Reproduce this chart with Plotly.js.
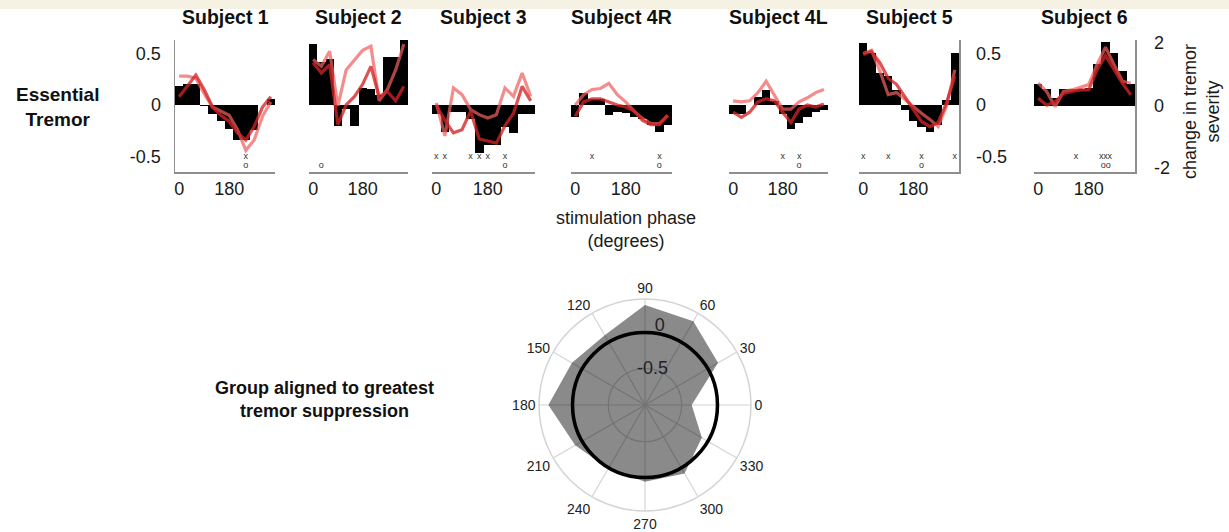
<!DOCTYPE html>
<html><head><meta charset="utf-8">
<script src="https://cdn.plot.ly/plotly-3.0.1.min.js"></script>
<style>body{margin:0;background:#fff}#chart{width:1229px;height:532px}</style>
</head><body><div id="chart"></div><script>
// ---------------- data ----------------
const subjects = ['Subject 1','Subject 2','Subject 3','Subject 4R','Subject 4L','Subject 5','Subject 6'];
const phaseBins = [0,30,60,90,120,150,180,210,240,270,300,330];
const xTickVals = [0,180];
const xTickText = ['0','180'];

const bars1 = [0.18,0.20,0.20,-0.01,-0.09,-0.16,-0.23,-0.34,-0.34,-0.24,0.00,0.06];
const lineA1 = [0.28,0.28,0.26,0.11,-0.02,-0.06,-0.10,-0.24,-0.44,-0.34,-0.11,0.03];
const lineB1 = [0.08,0.18,0.29,0.15,-0.02,-0.10,-0.16,-0.27,-0.34,-0.21,-0.02,0.08];
const xMarks1 = [240], oMarks1 = [240];

const bars2 = [0.59,0.42,0.45,-0.20,-0.04,-0.20,0.165,0.155,0.10,0.47,0.47,0.63];
const lineA2 = [0.44,0.375,0.52,-0.01,0.34,0.44,0.53,0.57,0.04,0.15,0.34,0.59];
const lineB2 = [0.41,0.31,0.39,-0.19,0.00,0.08,0.20,0.375,0.08,0.13,0.04,0.18];
const xMarks2 = [], oMarks2 = [30];

const bars3 = [-0.09,-0.26,-0.07,-0.07,-0.14,-0.47,-0.385,-0.385,-0.21,-0.27,-0.09,-0.09];
const lineA3 = [0.02,-0.30,0.165,0.10,-0.045,-0.094,-0.126,-0.094,0.165,0.084,0.31,0.084];
const lineB3 = [0.00,-0.15,-0.27,-0.24,-0.06,-0.33,-0.35,-0.37,-0.20,-0.08,0.18,0.04];
const xMarks3 = [0,30,120,150,180,240], oMarks3 = [240];

const bars4R = [-0.12,0.12,0.06,0.06,-0.10,-0.07,-0.08,-0.12,-0.14,-0.19,-0.26,-0.19];
const lineA4R = [0.00,0.10,0.15,0.16,0.21,0.10,0.03,-0.06,-0.13,-0.18,-0.18,-0.10];
const lineB4R = [-0.11,0.03,0.06,0.06,0.03,0.00,-0.02,-0.06,-0.15,-0.19,-0.19,-0.10];
const xMarks4R = [60,300], oMarks4R = [300];

const bars4L = [-0.09,-0.09,0.00,0.08,0.15,0.04,-0.09,-0.23,-0.17,-0.12,-0.07,-0.05];
const lineA4L = [0.04,0.03,0.04,0.12,0.23,0.09,-0.04,-0.04,0.03,0.07,0.12,0.15];
const lineB4L = [-0.07,-0.12,-0.07,0.03,0.06,0.04,-0.07,-0.17,-0.04,0.00,-0.02,0.01];
const xMarks4L = [180,240], oMarks4L = [240];

const bars5 = [0.60,0.50,0.31,0.28,0.15,-0.05,-0.16,-0.21,-0.26,-0.19,0.05,0.50];
const lineA5 = [0.50,0.53,0.33,0.10,0.12,0.05,-0.01,-0.08,-0.14,-0.21,-0.01,0.34];
const lineB5 = [0.49,0.52,0.41,0.26,0.20,0.08,-0.03,-0.16,-0.21,-0.17,0.02,0.28];
const xMarks5 = [0,90,210,330], oMarks5 = [210];

const bars6 = [0.70,0.52,0.23,0.52,0.52,0.52,0.55,1.32,2.05,1.68,1.10,0.70];
const lineA6 = [0.72,0.45,-0.04,0.45,0.50,0.59,0.67,1.32,1.87,1.32,0.78,0.72];
const lineB6 = [0.23,0.01,0.12,0.39,0.45,0.50,0.50,1.16,1.60,1.16,0.72,0.34];
const xMarks6 = [135,225,240,255], oMarks6 = [232,250];

const polarTheta = [0,30,60,90,120,150,180,210,240,270,300,330];
const polarR = [-0.356,0.187,0.365,0.413,0.134,0.187,0.365,0.134,0.028,0.077,0.11,-0.082];
const polarAngleText = ['0','30','60','90','120','150','180','210','240','270','300','330'];
const polarTickVals = [-0.5,0];
const polarTickText = ['-0.5','0'];

// ---------------- layout helpers ----------------
const W = 1229, H = 532;
const FONT = 'Liberation Sans, Arial, Helvetica, sans-serif';
const panelsPx = [[175,275],[309,408],[432,535],[571,672],[729,828],[859,959],[1034,1135]];
const yDom = [(H-172)/H, (H-40)/H];
const normRange = [-0.65,0.63];
const s6Range = [-2.13,2.10];

const series = [
  [bars1,lineA1,lineB1,xMarks1,oMarks1],
  [bars2,lineA2,lineB2,xMarks2,oMarks2],
  [bars3,lineA3,lineB3,xMarks3,oMarks3],
  [bars4R,lineA4R,lineB4R,xMarks4R,oMarks4R],
  [bars4L,lineA4L,lineB4L,xMarks4L,oMarks4L],
  [bars5,lineA5,lineB5,xMarks5,oMarks5],
  [bars6,lineA6,lineB6,xMarks6,oMarks6]
];

const traces = [];
const layout = {
  width: W, height: H,
  margin: {l:0,r:0,t:0,b:0},
  paper_bgcolor: '#ffffff',
  plot_bgcolor: 'rgba(0,0,0,0)',
  showlegend: false,
  bargap: 0,
  font: {family: FONT, color: '#1a1a1a'},
  annotations: [],
  shapes: [{type:'rect', xref:'paper', yref:'paper', x0:0, x1:1, y0:1-9/H, y1:1,
            fillcolor:'#f6f2e3', line:{width:0}, layer:'below'}]
};

series.forEach((s, i) => {
  const n = i + 1;
  const xa = n === 1 ? 'x' : 'x' + n;
  const ya = n === 1 ? 'y' : 'y' + n;
  const range = n === 7 ? s6Range : normRange;
  const span = range[1] - range[0];
  const xMarkY = range[0] + 0.115 * span;
  const oMarkY = range[0] + 0.045 * span;

  traces.push({type:'bar', x: phaseBins, y: s[0], width: 30, marker:{color:'#000000', line:{width:0}},
               xaxis: xa, yaxis: ya, hoverinfo:'skip'});
  traces.push({type:'scatter', mode:'lines', x: phaseBins, y: s[1], xaxis: xa, yaxis: ya,
               line:{color:'rgba(240,95,95,0.72)', width:3.2}, hoverinfo:'skip'});
  traces.push({type:'scatter', mode:'lines', x: phaseBins, y: s[2], xaxis: xa, yaxis: ya,
               line:{color:'rgba(210,35,35,0.78)', width:3.2}, hoverinfo:'skip'});
  if (s[3].length) traces.push({type:'scatter', mode:'text', x: s[3], y: s[3].map(() => xMarkY), text: s[3].map(() => 'x'),
               textfont:{size:9, color:'#333', family: FONT}, xaxis: xa, yaxis: ya, hoverinfo:'skip'});
  if (s[4].length) traces.push({type:'scatter', mode:'text', x: s[4], y: s[4].map(() => oMarkY), text: s[4].map(() => 'o'),
               textfont:{size:9, color:'#333', family: FONT}, xaxis: xa, yaxis: ya, hoverinfo:'skip'});

  const px = panelsPx[i];
  const xKey = n === 1 ? 'xaxis' : 'xaxis' + n;
  const yKey = n === 1 ? 'yaxis' : 'yaxis' + n;
  layout[xKey] = {
    domain: [px[0]/W, px[1]/W], range: [-15,345], anchor: ya,
    tickvals: xTickVals, ticktext: xTickText, ticks: '', showgrid: false, zeroline: false,
    showline: true, linecolor: '#8f8f8f', linewidth: 1.5,
    tickfont: {size: 18, color:'#1a1a1a', family: FONT}, fixedrange: true
  };
  const yax = {
    domain: yDom, range: range, anchor: xa, showgrid: false, zeroline: false, ticks: '',
    fixedrange: true, showline: false, showticklabels: false,
    tickfont: {size: 18, color:'#1a1a1a', family: FONT}, ticklabelstandoff: 9
  };
  if (n === 1) {
    Object.assign(yax, {side:'left', showline:true, linecolor:'#8f8f8f', linewidth:1.5, showticklabels:true,
      tickvals:[-0.5,0,0.5], ticktext:['-0.5','0','0.5']});
  }
  if (n === 6) {
    Object.assign(yax, {side:'right', showline:true, linecolor:'#8f8f8f', linewidth:1.5, showticklabels:true,
      tickvals:[-0.5,0,0.5], ticktext:['-0.5','0','0.5'], ticklabelstandoff: 12});
  }
  if (n === 7) {
    Object.assign(yax, {side:'right', showline:true, linecolor:'#8f8f8f', linewidth:1.5, showticklabels:true,
      tickvals:[-2,0,2], ticktext:['-2','0','2'], ticklabelstandoff: 14});
  }
  layout[yKey] = yax;

  layout.annotations.push({text: '<b>' + subjects[i] + '</b>', xref:'paper', yref:'paper',
    x: (px[0]+px[1])/2/W, y: (H-17)/H, xanchor:'center', yanchor:'middle', showarrow:false,
    font:{size:19.5, color:'#111', family: FONT}});
});

// polar group plot
traces.push({type:'scatterpolar', r: polarR.concat([polarR[0]]), theta: polarTheta.concat([polarTheta[0]]),
  mode:'lines', fill:'toself', fillcolor:'rgba(0,0,0,0.46)', line:{width:0, color:'rgba(0,0,0,0)'},
  subplot:'polar', hoverinfo:'skip'});
// radial tick labels, placed through the polar scale (MATLAB style: horizontal, centred on the r-axis)
traces.push({type:'scatterpolar', r: polarTickVals, theta: polarTickVals.map(() => 78), text: polarTickText,
  mode:'text', textposition: ['middle center','top center'],
  textfont:{size:18, color:'#222', family: FONT}, subplot:'polar', hoverinfo:'skip', cliponaxis:false});
traces.push({type:'scatterpolar', r: polarR, theta: polarTheta, mode:'markers', marker:{opacity:0},
  subplot:'polar2', hoverinfo:'skip'});

const cx = 645, cy = 405, R = 106, R0 = 72.5;
layout.polar = {
  domain: {x: [(cx-R)/W, (cx+R)/W], y: [(H-cy-R)/H, (H-cy+R)/H]},
  bgcolor: '#ffffff',
  angularaxis: {rotation: 0, direction: 'counterclockwise', tickvals: polarTheta, ticktext: polarAngleText,
    ticks: '', showline: true, linecolor: '#d4d4d4', linewidth: 1.5, gridcolor: '#d4d4d4', gridwidth: 1.2,
    tickfont: {size: 14, color: '#222', family: FONT}},
  radialaxis: {range: [-1.03, 0.5], tickvals: polarTickVals, showticklabels: false, showline: false,
    ticks: '', angle: 80, gridcolor: '#d4d4d4', gridwidth: 1.2}
};
layout.polar2 = {
  domain: {x: [(cx-R0)/W, (cx+R0)/W], y: [(H-cy-R0)/H, (H-cy+R0)/H]},
  bgcolor: 'rgba(0,0,0,0)',
  angularaxis: {showline: true, linecolor: '#000000', linewidth: 3.5, showgrid: false,
    showticklabels: false, ticks: ''},
  radialaxis: {visible: false, range: [0, 1]}
};

// text labels
layout.annotations.push(
  {text:'<b>Essential<br>Tremor</b>', xref:'paper', yref:'paper', x:57/W, y:(H-107)/H,
   xanchor:'center', yanchor:'middle', showarrow:false, font:{size:19, color:'#111', family: FONT}},
  {text:'stimulation phase<br>(degrees)', xref:'paper', yref:'paper', x:626/W, y:(H-229)/H,
   xanchor:'center', yanchor:'middle', showarrow:false, font:{size:18, color:'#1a1a1a', family: FONT}},
  {text:'change in tremor<br>severity', xref:'paper', yref:'paper', x:1201/W, y:(H-112)/H, textangle:-90,
   xanchor:'center', yanchor:'middle', showarrow:false, font:{size:18, color:'#1a1a1a', family: FONT}},
  {text:'<b>Group aligned to greatest<br>tremor suppression</b>', xref:'paper', yref:'paper', x:324/W, y:(H-399)/H,
   xanchor:'center', yanchor:'middle', showarrow:false, font:{size:18, color:'#111', family: FONT}}
);

Plotly.newPlot('chart', traces, layout, {staticPlot: true, displayModeBar: false});
</script></body></html>
